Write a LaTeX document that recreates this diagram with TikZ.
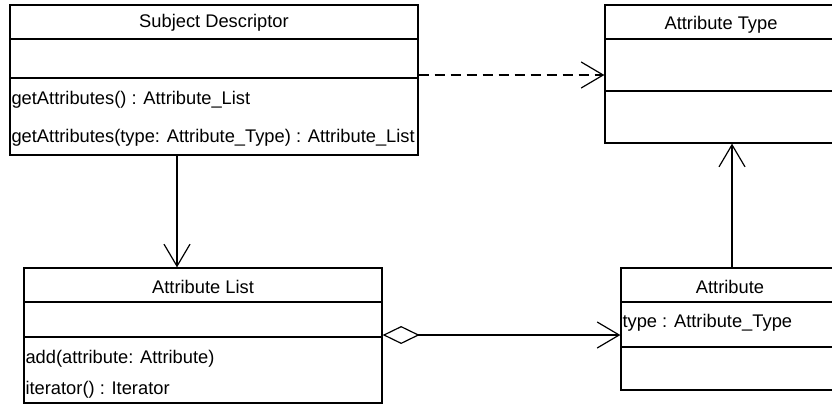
\documentclass[tikz,border=0pt]{standalone}
\usepackage{fontspec}
\setmainfont{Liberation Sans}
\usetikzlibrary{arrows.meta}

\begin{document}
\begin{tikzpicture}[
        x=1pt, y=-1pt,
        every node/.style={font=\fontsize{18.3}{20}\selectfont, inner sep=2pt},
        cls/.style={draw, line width=1.3pt, rectangle, inner sep=0pt},
        sep/.style={line width=1.2pt},
        member/.style={anchor=west},
        nav/.style={line width=1.2pt, -{Straight Barb[length=22pt, width=26pt]}},
        dep/.style={nav, dash pattern=on 10pt off 6pt},
        agg/.style={nav, {Diamond[open, length=37pt, width=18pt]}-{Straight Barb[length=22pt, width=26pt]}},
    ]

    \fill[white] (0,0) rectangle (832,405);
    \useasboundingbox (0,0) rectangle (832,405);
    \clip (0,0) rectangle (832,405);

    % classes
    \node[cls, minimum width=408pt, minimum height=150pt](sd) at (214,80) {};
    \node[cls, minimum width=232pt, minimum height=138pt](at) at (721,74) {};
    \node[cls, minimum width=358pt, minimum height=135pt](al) at (203,335.5) {};
    \node[cls, minimum width=218pt, minimum height=122pt](attr) at (730,329) {};

    % compartments
    \draw[sep] (sd.west |- 0,39) -- (sd.east |- 0,39);
    \draw[sep] (sd.west |- 0,78) -- (sd.east |- 0,78);
    \draw[sep] (at.west |- 0,39) -- (at.east |- 0,39);
    \draw[sep] (at.west |- 0,91) -- (at.east |- 0,91);
    \draw[sep] (al.west |- 0,302) -- (al.east |- 0,302);
    \draw[sep] (al.west |- 0,337) -- (al.east |- 0,337);
    \draw[sep] (attr.west |- 0,302) -- (attr.east |- 0,302);
    \draw[sep] (attr.west |- 0,347) -- (attr.east |- 0,347);

    % texts
    \node(sdT) at (sd.north |- 0,23) {Subject Descriptor};
    \node[member](sdA) at (sd.west |- 0,100) {getAttributes() : Attribute\_List};
    \node[member](sdB) at (sd.west |- 0,138) {getAttributes(type: Attribute\_Type) : Attribute\_List};
    \node(atT) at (at.north |- 0,25) {Attribute Type};
    \node(alT) at (al.north |- 0,287) {Attribute List};
    \node[member](alA) at (al.west |- 0,359) {add(attribute: Attribute)};
    \node[member](alB) at (al.west |- 0,390) {iterator() : Iterator};
    \node(attrT) at (attr.north |- 0,287) {Attribute};
    \node[member](attrA) at (attr.west |- 0,323) {type : Attribute\_Type};

    \draw[dep] (sd.east |- 0,75) -- (at.west |- 0,75);
    \draw[nav] (sd.south -| 177,0) -- (al.north -| 177,0);
    \draw[agg] (al.east |- 0,335) -- (attr.west |- 0,335);
    \draw[nav] (attr.north -| 732,0) -- (at.south -| 732,0);
\end{tikzpicture}
\end{document}
